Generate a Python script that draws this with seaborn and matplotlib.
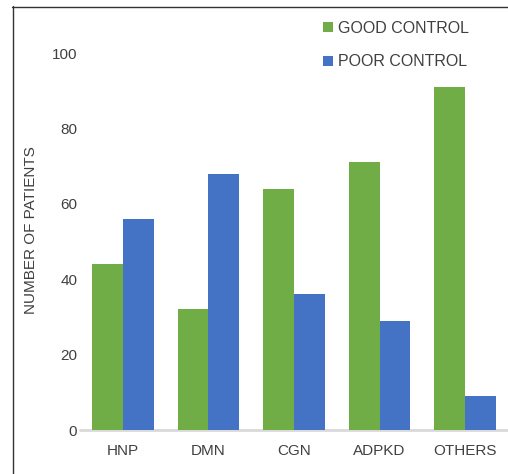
import matplotlib
matplotlib.use("Agg")
import matplotlib.pyplot as plt
import seaborn as sns
import pandas as pd
from matplotlib.lines import Line2D
from matplotlib.patches import Patch

categories = ["HNP", "DMN", "CGN", "ADPKD", "OTHERS"]
good_control = [44, 32, 64, 71, 91]
poor_control = [56, 68, 36, 29, 9]
series_names = ["GOOD CONTROL", "POOR CONTROL"]
y_ticks = [0, 20, 40, 60, 80, 100]
colors = ["#70AD47", "#4472C4"]

df = pd.DataFrame({
    "category": categories * 2,
    "value": good_control + poor_control,
    "series": [series_names[0]] * len(categories) + [series_names[1]] * len(categories),
})

sns.set_style("white")
plt.rcParams["font.family"] = ["Liberation Sans", "DejaVu Sans"]
text_color = "#404040"

W, H = 508, 474
fig = plt.figure(figsize=(W / 100, H / 100), dpi=100)
ax = fig.add_axes([80 / W, (H - 430) / H, (W - 80) / W, (430 - 53) / H])

sns.barplot(data=df, x="category", y="value", hue="series", palette=colors,
            width=0.72, saturation=1, ax=ax, legend=False, order=categories,
            hue_order=series_names, linewidth=0, edgecolor="none")

ax.set_xlim(-0.5, 4.5)
ax.set_ylim(0, 100)
ax.set_yticks(y_ticks)
ax.set_yticklabels([str(t) for t in y_ticks], fontsize=11, color=text_color)
ax.set_xticks(range(len(categories)))
ax.set_xticklabels(categories, fontsize=11, color=text_color)
ax.tick_params(axis="both", length=0)
ax.tick_params(axis="y", pad=2)
ax.tick_params(axis="x", pad=10)
for s in ax.spines.values():
    s.set_visible(False)
ax.axhline(0, color="#d9d9d9", lw=2, zorder=0.5, clip_on=False)
ax.set_xlabel("")
ax.set_ylabel("NUMBER OF PATIENTS", fontsize=11, color=text_color)
ax.yaxis.set_label_coords(-42 / 428, 0.53)
ax.patch.set_alpha(0)

handles = [Patch(facecolor=c, edgecolor="none") for c in colors]
fig.legend(handles, series_names, loc="upper left",
           bbox_to_anchor=(315 / W, 1 - 13 / H), frameon=False,
           fontsize=11.5, handlelength=0.6, handleheight=0.6,
           handletextpad=0.35, labelspacing=1.15, borderpad=0,
           labelcolor=text_color)

fig.add_artist(Line2D([12.5 / W, 12.5 / W], [0, 1 - 6 / H], color="#333333",
                      lw=1, transform=fig.transFigure))
fig.add_artist(Line2D([12 / W, 1], [1 - 6.5 / H, 1 - 6.5 / H], color="#333333",
                      lw=1, transform=fig.transFigure))

fig.savefig("out.png", dpi=100)
